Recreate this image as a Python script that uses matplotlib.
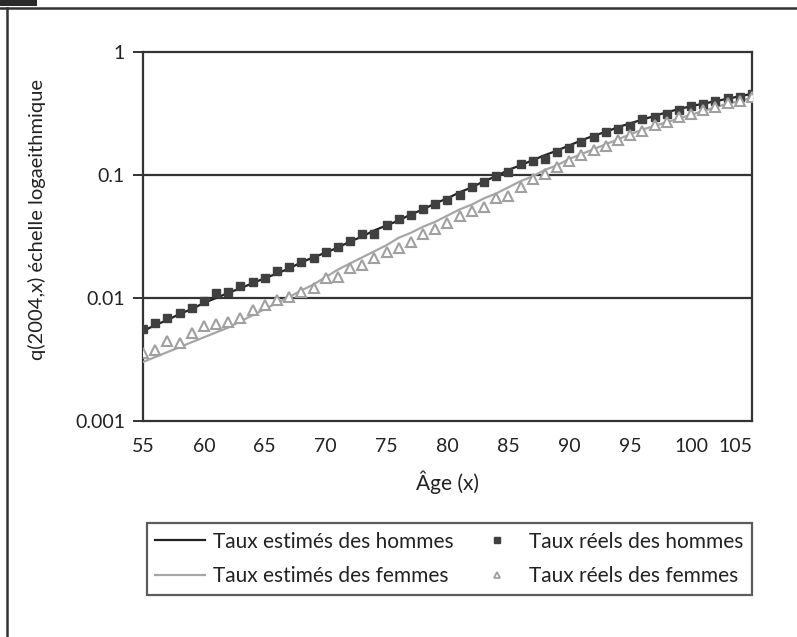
import matplotlib
matplotlib.use("Agg")
import matplotlib.pyplot as plt
from matplotlib.lines import Line2D
from matplotlib.patches import Rectangle
from matplotlib.transforms import blended_transform_factory, ScaledTranslation

plt.rcParams['font.family'] = ['Lato', 'DejaVu Sans']

ages = list(range(55, 106))

men_est = [0.00537, 0.00603, 0.00661, 0.00741, 0.00813, 0.00912, 0.0100, 0.0110, 0.0120, 0.0132,
           0.0145, 0.0158, 0.0174, 0.0195, 0.0214, 0.0234, 0.0257, 0.0288, 0.0316, 0.0355,
           0.0389, 0.0427, 0.0479, 0.0525, 0.0589, 0.0646, 0.0724, 0.0794, 0.0891, 0.0977,
           0.110, 0.120, 0.132, 0.145, 0.158, 0.174, 0.191, 0.209, 0.224, 0.245,
           0.263, 0.282, 0.302, 0.324, 0.343, 0.363, 0.380, 0.398, 0.417, 0.437, 0.457]

men_obs = [0.0056, 0.0063, 0.0069, 0.0076, 0.0083, 0.0095, 0.0110, 0.0112, 0.0126, 0.0135,
           0.0145, 0.0166, 0.0178, 0.0195, 0.0213, 0.0235, 0.0258, 0.0290, 0.0330, 0.0330,
           0.0390, 0.0440, 0.0470, 0.0530, 0.0580, 0.0630, 0.0690, 0.0800, 0.0880, 0.0980,
           0.105, 0.123, 0.130, 0.135, 0.154, 0.166, 0.186, 0.204, 0.224, 0.236,
           0.251, 0.285, 0.296, 0.315, 0.338, 0.363, 0.380, 0.400, 0.425, 0.430, 0.457]

women_est = [0.00302, 0.00331, 0.00363, 0.00398, 0.00437, 0.00479, 0.00525, 0.00575, 0.00646, 0.00724,
             0.00813, 0.00912, 0.0102, 0.0115, 0.0129, 0.0148, 0.0170, 0.0191, 0.0214, 0.0240,
             0.0269, 0.0309, 0.0339, 0.0380, 0.0417, 0.0468, 0.0525, 0.0575, 0.0646, 0.0708,
             0.0794, 0.0891, 0.0977, 0.110, 0.120, 0.135, 0.148, 0.162, 0.178, 0.195,
             0.214, 0.234, 0.251, 0.269, 0.288, 0.309, 0.331, 0.355, 0.380, 0.398, 0.427]

women_obs = [0.0036, 0.0038, 0.0045, 0.0043, 0.0052, 0.0059, 0.0061, 0.0064, 0.0069, 0.0080,
             0.0088, 0.0096, 0.0102, 0.0112, 0.0121, 0.0145, 0.0148, 0.0175, 0.0185, 0.0212,
             0.0236, 0.0255, 0.0285, 0.0330, 0.0363, 0.0407, 0.0465, 0.0510, 0.0550, 0.0650,
             0.0670, 0.0800, 0.0930, 0.102, 0.117, 0.130, 0.145, 0.160, 0.172, 0.192,
             0.212, 0.228, 0.255, 0.270, 0.296, 0.314, 0.338, 0.357, 0.385, 0.400, 0.430]

x_ticks = [55, 60, 65, 70, 75, 80, 85, 90, 95, 100, 105]
y_ticks = [0.001, 0.01, 0.1, 1]
y_tick_labels = ["0.001", "0.01", "0.1", "1"]

labels = ["Taux estimés des hommes", "Taux estimés des femmes",
          "Taux réels des hommes", "Taux réels des femmes"]

W, H = 797, 637
fig = plt.figure(figsize=(W / 100, H / 100), dpi=100)

# outer decorations
fig.add_artist(Rectangle((0, 1 - 6 / H), 37 / W, 6 / H, transform=fig.transFigure,
                         facecolor='#2a2a2a', edgecolor='none'))
fig.add_artist(Line2D([0, 1], [1 - 8 / H, 1 - 8 / H], transform=fig.transFigure,
                      color='#333333', lw=1.8))
fig.add_artist(Line2D([6.5 / W, 6.5 / W], [0, 1 - 8 / H], transform=fig.transFigure,
                      color='#333333', lw=1.8))

ax = fig.add_axes([143 / W, 1 - 421 / H, (752 - 143) / W, (421 - 52) / H])
ax.set_yscale('log')
ax.set_xlim(55, 105)
ax.set_ylim(0.001, 1)

for yv in [0.01, 0.1]:
    ax.axhline(yv, color='#333333', lw=1.6, zorder=1)

ax.plot(ages, men_est, color='#222222', lw=1.6, zorder=3)
ax.plot(ages, women_est, color='#a6a6a6', lw=1.6, zorder=3)
ax.plot(ages, men_obs, ls='none', marker='s', ms=6.4, mfc='#404040', mec='#404040', zorder=4)
ax.plot(ages, women_obs, ls='none', marker='^', ms=7, mfc='white', mec='#a0a0a0',
        mew=1.5, zorder=4)

for s in ax.spines.values():
    s.set_color('#333333')
    s.set_linewidth(1.6)

# x tick labels: last one right-aligned at the plot edge (as in the reference)
ax.set_xticks(x_ticks)
ax.set_xticklabels([str(t) for t in x_ticks[:-1]] + [""])
ax.tick_params(axis='x', length=0, labelsize=14, pad=12, colors='#222222')
trans_x = blended_transform_factory(ax.transData, ax.transAxes)
ax.text(x_ticks[-1], 0, str(x_ticks[-1]), transform=trans_x + ScaledTranslation(0, -12 / 72, fig.dpi_scale_trans),
        ha='right', va='top', fontsize=14, color='#222222')

ax.set_yticks(y_ticks)
ax.set_yticklabels(y_tick_labels)
ax.minorticks_off()
ax.tick_params(axis='y', length=7, width=1.4, color='#333333', labelsize=14, pad=6,
               labelcolor='#222222')

fig.text(448 / W, 1 - 482 / H, "Âge (x)", ha='center', va='center', fontsize=15, color='#222222')
fig.text(37 / W, 1 - 220 / H, "q(2004,x) échelle logaeithmique", rotation=90,
         ha='center', va='center', fontsize=14.5, color='#222222')

handles = [
    Line2D([], [], color='#222222', lw=1.6),
    Line2D([], [], color='#a6a6a6', lw=1.6),
    Line2D([], [], ls='none', marker='s', ms=4, mfc='#404040', mec='#404040'),
    Line2D([], [], ls='none', marker='^', ms=4.5, mfc='white', mec='#a0a0a0', mew=1.3),
]
leg = fig.legend(handles, labels, ncol=2, loc='center',
                 bbox_to_anchor=(147 / W, 1 - 600 / H, (752 - 147) / W, (600 - 518) / H),
                 mode='expand', fontsize=15, frameon=True, fancybox=False,
                 handlelength=2.4, handletextpad=0.35, columnspacing=0.5,
                 labelspacing=0.7, borderpad=0.4, borderaxespad=0)
leg.get_frame().set_edgecolor('#333333')
leg.get_frame().set_linewidth(1.6)
for t in leg.get_texts():
    t.set_color('#222222')

fig.savefig("out.png", dpi=100)
